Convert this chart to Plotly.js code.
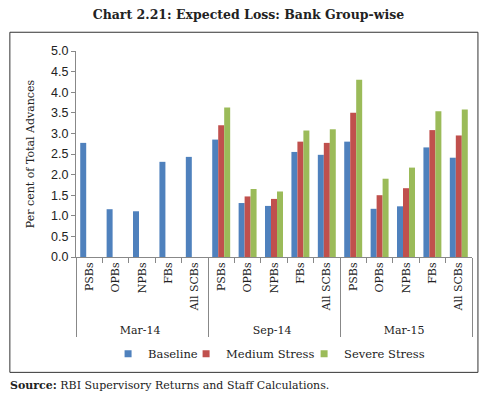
<!DOCTYPE html>
<html><head><meta charset="utf-8">
<script src="https://cdn.plot.ly/plotly-3.0.1.min.js"></script>
<style>body{margin:0;background:#fff}#chart{width:492px;height:396px}</style>
</head><body><div id="chart"></div>
<script>
const periods = ["Mar-14","Sep-14","Mar-15"];
const groups = ["PSBs","OPBs","NPBs","FBs","All SCBs"];
const seriesNames = ["Baseline","Medium Stress","Severe Stress"];
const baseline = [2.77,1.16,1.11,2.31,2.43, 2.85,1.31,1.24,2.55,2.48, 2.80,1.17,1.23,2.66,2.41];
const medium   = [null,null,null,null,null, 3.20,1.47,1.41,2.80,2.77, 3.50,1.50,1.67,3.08,2.95];
const severe   = [null,null,null,null,null, 3.63,1.65,1.59,3.07,3.10, 4.30,1.90,2.17,3.54,3.58];
const yTicks = [0,0.5,1,1.5,2,2.5,3,3.5,4,4.5,5];
const colors = ["#4F81BD","#C0504D","#9BBB59"];

const xOuter = [], xInner = [];
periods.forEach(p => groups.forEach(g => { xOuter.push(p); xInner.push(g); }));
const x = [xOuter, xInner];
const font = "DejaVu Serif, Liberation Serif, serif";
const values = [baseline, medium, severe];
const legendIds = ["legend","legend2","legend3"];
const traces = values.map((v,i) => ({type:"bar", name:seriesNames[i], x:x, y:v, marker:{color:colors[i]}, showlegend:false}));
seriesNames.forEach((n,i) => traces.push({type:"scatter", mode:"markers", name:n, legend:legendIds[i], x:[[periods[0]],[groups[0]]], y:[null], marker:{symbol:"square", size:7, color:colors[i]}, hoverinfo:"skip"}));

const legendBase = {orientation:"h", xanchor:"left", y:-0.47, yanchor:"middle", font:{size:11.5, family:font}, itemwidth:30, bgcolor:"rgba(0,0,0,0)"};
const layout = {
  width:492, height:396,
  margin:{l:76, r:20, t:51, b:139},
  paper_bgcolor:"#fff", plot_bgcolor:"#fff",
  font:{family:font, size:11, color:"#222"},
  title:{text:"<b>Chart 2.21: Expected Loss: Bank Group-wise</b>", x:0.505, xanchor:"center", y:0.962, yanchor:"middle", font:{size:12.5, family:font, color:"#222"}},
  barmode:"group", bargap:0.32, bargroupgap:0,
  xaxis:{type:"multicategory", automargin:false, range:[-0.5, 14.5], showline:true, linecolor:"#888", linewidth:1, ticks:"outside", tickcolor:"#888", ticklen:5, tickangle:-90, showdividers:true, dividercolor:"#888", dividerwidth:1, tickfont:{size:11, family:font}, showgrid:false},
  yaxis:{range:[0,5], automargin:false, tickvals:yTicks, ticktext:yTicks.map(v=>v.toFixed(1)), showline:true, linecolor:"#888", ticks:"outside", tickcolor:"#888", ticklen:4, showgrid:false, zeroline:false, tickfont:{size:12.5, family:"Liberation Sans, Arial, sans-serif"},
    title:{text:"Per cent of Total Advances", font:{size:11, family:font}, standoff:14}},
  legend: Object.assign({}, legendBase, {x:0.081}),
  legend2: Object.assign({}, legendBase, {x:0.278}),
  legend3: Object.assign({}, legendBase, {x:0.576}),
  shapes:[{type:"rect", xref:"paper", yref:"paper", x0:-0.167, x1:1.015, y0:-0.56, y1:1.091, line:{color:"#333", width:1}}],
  annotations:[{text:"<b>Source:</b> RBI Supervisory Returns and Staff Calculations.", xref:"paper", yref:"paper", x:-0.172, xanchor:"left", y:-0.625, yanchor:"middle", showarrow:false, font:{size:11, family:font, color:"#222"}}]
};
Plotly.newPlot("chart", traces, layout, {displayModeBar:false});
</script></body></html>
